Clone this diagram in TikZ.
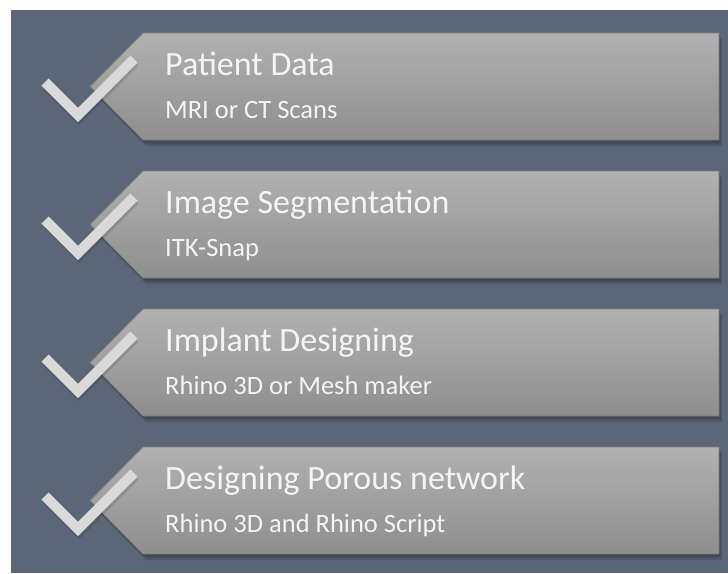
\documentclass[tikz,border=0pt]{standalone}
\usepackage{fontspec}
\setmainfont{Carlito}
\usepackage{xcolor}
\usepackage{tikz}
\usetikzlibrary{shapes,arrows,positioning}

\definecolor{slate}{HTML}{5B6778}
\definecolor{bandtop}{HTML}{B1B1B1}
\definecolor{bandbot}{HTML}{8E8E8E}
\definecolor{bandline}{HTML}{7C7C7C}
\definecolor{tickgray}{HTML}{D9D9D9}
\definecolor{textwhite}{HTML}{F4F4F4}

\tikzset{
  steptitle/.style={anchor=base west, inner sep=0pt, text=textwhite, font=\fontsize{34}{40}\selectfont},
  stepsub/.style={anchor=base west, inner sep=0pt, text=textwhite, font=\fontsize{26.5}{32}\selectfont},
  tick/.style={line width=10pt, line join=miter, draw=tickgray}
}

\begin{document}
\begin{tikzpicture}[x=1pt,y=-1pt]
    \useasboundingbox (0,0) rectangle (728,573);
    \fill[white] (0,0) rectangle (728,573);
    \fill[slate] (11,10) rectangle (728,573);
    \foreach \i/\t/\s in {0/Patient Data/MRI or CT Scans,
                          1/Image Segmentation/ITK-Snap,
                          2/Implant Designing/Rhino 3D or Mesh maker,
                          3/Designing Porous network/Rhino 3D and Rhino Script}{
      \begin{scope}[shift={(0,138*\i+33)}]
        % soft shadow
        \foreach \d in {2,4,6}
          \fill[black, opacity=0.12] (143+\d/2,\d) -- (719+\d/2,\d) -- (719+\d/2,107+\d) -- (143+\d/2,107+\d) -- (90+\d/2,53.5+\d) -- cycle;
        % banner
        \shade[top color=bandtop, bottom color=bandbot] (143,0) -- (719,0) -- (719,107) -- (143,107) -- (90,53.5) -- cycle;
        \draw[bandline, line width=0.8pt] (143,0) -- (719,0) -- (719,107) -- (143,107) -- (90,53.5) -- cycle;
        % check mark
        \draw[tick, draw=black, opacity=0.12] (47,53) -- (79,85) -- (135,29);
        \draw[tick] (45,49) -- (78,82) -- (134,26);
        \node[steptitle] (title\i) at (165,42) {\t};
        \node[stepsub] (sub\i) at (165,85) {\s};
      \end{scope}
    }
  \end{tikzpicture}
\end{document}
